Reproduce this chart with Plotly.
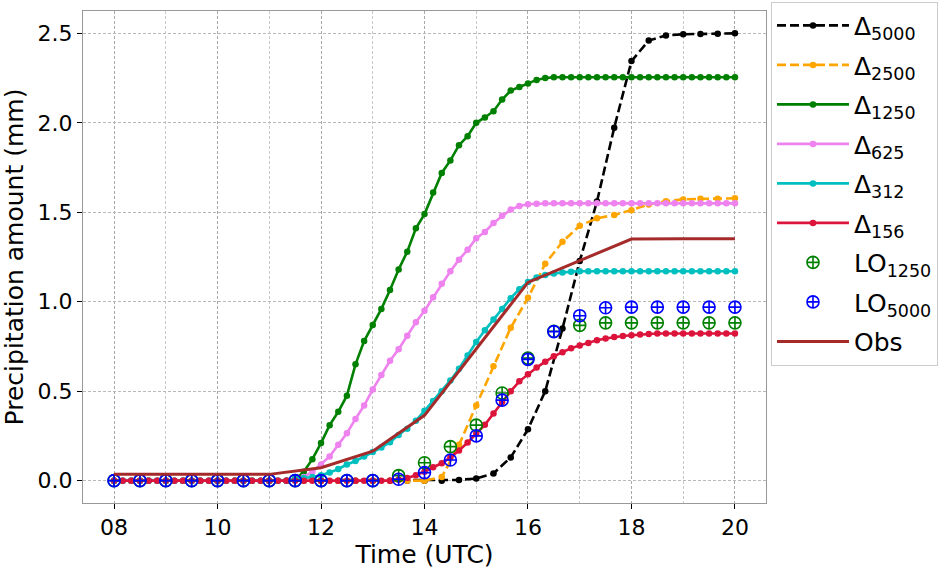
import plotly.graph_objects as go

# ---- time axes ----
t10 = [8 + i / 6 for i in range(73)]      # 10-min model output
t20 = [8 + j / 3 for j in range(37)]      # 20-min model output
t30 = [8 + k / 2 for k in range(25)]      # 30-min LO output
t60 = [8 + h for h in range(13)]          # hourly observations

# ---- series values (mm) ----
d5000 = [0.0, 0.0, 0.0, 0.0, 0.0, 0.0, 0.0, 0.0, 0.0, 0.0,
         0.0, 0.0, 0.0, 0.0, 0.0, 0.0, 0.0, 0.0, 0.0, 0.0,
         0.004, 0.012, 0.04, 0.13, 0.287, 0.5, 0.85, 1.227, 1.56, 1.973,
         2.345, 2.46, 2.488, 2.495, 2.497, 2.498, 2.5]

d2500 = [0.0, 0.0, 0.0, 0.0, 0.0, 0.0, 0.0, 0.0, 0.0, 0.0,
         0.0, 0.0, 0.0, 0.0, 0.0, 0.0, 0.0, 0.0, 0.0, 0.02,
         0.2, 0.42, 0.64, 0.855, 1.022, 1.212, 1.335, 1.425, 1.466, 1.485,
         1.512, 1.544, 1.562, 1.572, 1.575, 1.576, 1.578]

d1250 = [0.0, 0.0, 0.0, 0.0, 0.0, 0.0, 0.0, 0.0, 0.0, 0.0,
         0.0, 0.0, 0.0, 0.0, 0.0, 0.0, 0.0, 0.0, 0.0, 0.0,
         0.0, 0.005, 0.05, 0.12, 0.21, 0.31, 0.385, 0.475, 0.65, 0.78,
         0.87, 0.96, 1.065, 1.18, 1.28, 1.41, 1.49, 1.61, 1.72, 1.79,
         1.875, 1.925, 2.0, 2.03, 2.065, 2.13, 2.18, 2.2, 2.22, 2.24,
         2.25, 2.255, 2.255, 2.255, 2.255, 2.255, 2.255, 2.255, 2.255, 2.255,
         2.255, 2.255, 2.255, 2.255, 2.255, 2.255, 2.255, 2.255, 2.255, 2.255,
         2.255, 2.255, 2.255]

d625 = [0.0, 0.0, 0.0, 0.0, 0.0, 0.0, 0.0, 0.0, 0.0, 0.0,
        0.0, 0.0, 0.0, 0.0, 0.0, 0.0, 0.0, 0.0, 0.0, 0.0,
        0.0, 0.005, 0.02, 0.05, 0.09, 0.135, 0.2, 0.265, 0.345, 0.42,
        0.51, 0.59, 0.67, 0.735, 0.81, 0.885, 0.95, 1.025, 1.1, 1.17,
        1.235, 1.29, 1.355, 1.39, 1.44, 1.48, 1.515, 1.535, 1.545, 1.548,
        1.55, 1.55, 1.55, 1.55, 1.55, 1.55, 1.55, 1.55, 1.55, 1.55,
        1.55, 1.55, 1.55, 1.55, 1.55, 1.55, 1.55, 1.55, 1.55, 1.55,
        1.55, 1.55, 1.55]

d312 = [0.0, 0.0, 0.0, 0.0, 0.0, 0.0, 0.0, 0.0, 0.0, 0.0,
        0.0, 0.0, 0.0, 0.0, 0.0, 0.0, 0.0, 0.0, 0.0, 0.0,
        0.0, 0.01, 0.015, 0.02, 0.03, 0.045, 0.065, 0.09, 0.11, 0.135,
        0.16, 0.185, 0.215, 0.255, 0.29, 0.335, 0.39, 0.445, 0.5, 0.56,
        0.625, 0.7, 0.775, 0.84, 0.9, 0.96, 1.02, 1.07, 1.11, 1.135,
        1.15, 1.158, 1.164, 1.168, 1.17, 1.17, 1.17, 1.17, 1.17, 1.17,
        1.17, 1.17, 1.17, 1.17, 1.17, 1.17, 1.17, 1.17, 1.17, 1.17,
        1.17, 1.17, 1.17]

d156 = [0.0, 0.0, 0.0, 0.0, 0.0, 0.0, 0.0, 0.0, 0.0, 0.0,
        0.0, 0.0, 0.0, 0.0, 0.0, 0.0, 0.0, 0.0, 0.0, 0.0,
        0.0, 0.0, 0.0, 0.0, 0.0, 0.0, 0.0, 0.0, 0.0, 0.0,
        0.0, 0.0, 0.0, 0.005, 0.015, 0.03, 0.05, 0.075, 0.097, 0.13,
        0.168, 0.213, 0.262, 0.312, 0.375, 0.44, 0.5, 0.555, 0.595, 0.632,
        0.665, 0.695, 0.718, 0.74, 0.756, 0.77, 0.785, 0.794, 0.803, 0.808,
        0.813, 0.817, 0.82, 0.822, 0.822, 0.822, 0.822, 0.822, 0.822, 0.822,
        0.822, 0.822, 0.822]

lo1250 = [0.0, 0.0, 0.0, 0.0, 0.0, 0.0, 0.0, 0.0, 0.0, 0.0, 0.0,
          0.028, 0.1, 0.19, 0.31, 0.49, 0.685, 0.835, 0.868, 0.882,
          0.882, 0.882, 0.882, 0.882, 0.882]

lo5000 = [0.0, 0.0, 0.0, 0.0, 0.0, 0.0, 0.0, 0.0, 0.0, 0.0, 0.0,
          0.008, 0.045, 0.115, 0.25, 0.45, 0.678, 0.833, 0.922, 0.966,
          0.97, 0.97, 0.97, 0.97, 0.97]

obs = [0.035, 0.035, 0.035, 0.035, 0.072, 0.165, 0.365, 0.735, 1.108,
       1.23, 1.35, 1.352, 1.352]

x_tickvals = [8, 10, 12, 14, 16, 18, 20]
x_ticktext = ["08", "10", "12", "14", "16", "18", "20"]
y_tickvals = [0.0, 0.5, 1.0, 1.5, 2.0, 2.5]
y_ticktext = ["0.0", "0.5", "1.0", "1.5", "2.0", "2.5"]

FONT = "DejaVu Sans"

fig = go.Figure()

def model(x, y, name, color, dash="solid"):
    fig.add_trace(go.Scatter(
        x=x, y=y, name=name, mode="lines+markers", legendgroup=name,
        line=dict(color=color, width=2.6, dash=dash),
        marker=dict(color=color, size=6.5, symbol="circle"),
    ))

model(t20, d5000, "Δ<sub>5000</sub>", "#000000", dash="9px,4px")
model(t20, d2500, "Δ<sub>2500</sub>", "#FFA500", dash="9px,4px")
model(t10, d1250, "Δ<sub>1250</sub>", "#008000")
model(t10, d625, "Δ<sub>625</sub>", "#EE82EE")
model(t10, d312, "Δ<sub>312</sub>", "#00BFBF")
model(t10, d156, "Δ<sub>156</sub>", "#DC143C")

fig.add_trace(go.Scatter(
    x=t30, y=lo1250, name="LO<sub>1250</sub>", mode="markers", legendgroup="lo1",
    marker=dict(symbol="circle-cross-open", size=12, color="#008000",
                line=dict(color="#008000", width=1.6)),
))
fig.add_trace(go.Scatter(
    x=t30, y=lo5000, name="LO<sub>5000</sub>", mode="markers", legendgroup="lo5",
    marker=dict(symbol="circle-cross-open", size=12, color="#0000FF",
                line=dict(color="#0000FF", width=1.6)),
))
fig.add_trace(go.Scatter(
    x=t60, y=obs, name="Obs", mode="lines", legendgroup="obs",
    line=dict(color="#A52A2A", width=3),
))

fig.update_layout(
    width=941, height=570,
    margin=dict(l=83, r=175, t=11, b=67, autoexpand=False),
    paper_bgcolor="white", plot_bgcolor="white",
    font=dict(family=FONT, size=22, color="black"),
    showlegend=True,
    legend=dict(
        x=1.0073, y=1.019, xanchor="left", yanchor="top",
        bgcolor="white", bordercolor="#CCCCCC", borderwidth=1,
        font=dict(family=FONT, size=25, color="black"),
        itemwidth=72, tracegroupgap=4, maxheight=560,
    ),
)

fig.update_xaxes(
    range=[7.4, 20.6], automargin=False,
    tickvals=x_tickvals, ticktext=x_ticktext,
    ticks="outside", ticklen=5, tickwidth=1, tickcolor="black",
    showline=True, linecolor="#999999", linewidth=1, mirror=True,
    showgrid=True, gridcolor="#A8A8A8", griddash="3px,2px", gridwidth=1,
    minor=dict(dtick=1, tick0=8, showgrid=True, gridcolor="#C8C8C8",
               griddash="3px,2px", gridwidth=1, ticks=""),
    zeroline=False,
    title=dict(text="Time (UTC)", font=dict(size=25), standoff=4),
    tickfont=dict(size=22),
)
fig.update_yaxes(
    range=[-0.125, 2.625], automargin=False,
    tickvals=y_tickvals, ticktext=y_ticktext,
    ticks="outside", ticklen=5, tickwidth=1, tickcolor="black",
    showline=True, linecolor="#999999", linewidth=1, mirror=True,
    showgrid=True, gridcolor="#B8B8B8", griddash="3px,2px", gridwidth=1,
    zeroline=False,
    title=dict(text="Precipitation amount (mm)", font=dict(size=25), standoff=6),
    tickfont=dict(size=22),
)

fig.write_html(
    "out.html",
    config={"displayModeBar": False},
    post_script="document.body.style.margin='0px';document.body.style.overflow='hidden';",
)
